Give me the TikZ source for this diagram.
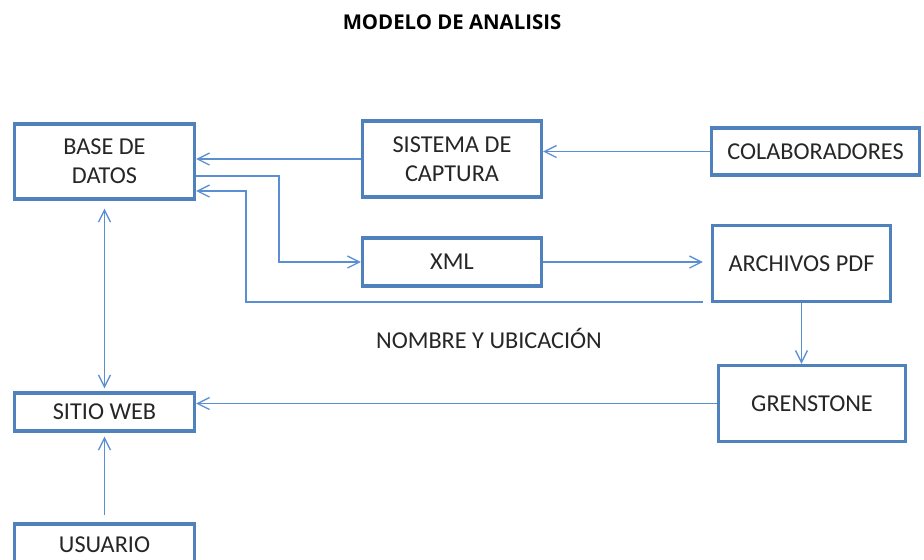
\documentclass[tikz,border=0pt]{standalone}
\usepackage{fontspec}
\setmainfont{Carlito}
\newfontfamily\titlefont{Open Sans}
\usetikzlibrary{arrows.meta}

\definecolor{boxblue}{HTML}{4F81BD}
\definecolor{lineblue}{HTML}{5B8FD3}

\begin{document}
\begin{tikzpicture}[x=0.02cm, y=-0.02cm,
    caja/.style={draw=boxblue, line width=1.8pt, align=center, inner sep=0pt,
                 text=black!85, font=\fontsize{13.8}{16.5}\selectfont},
    enlace/.style={draw=lineblue, line width=0.75pt,
                   arrows={-Straight Barb[length=2.4mm, width=2.4mm]}},
    etiqueta/.style={text=black!85, font=\fontsize{13.8}{16.5}\selectfont}]
      \useasboundingbox (0,0) rectangle (924,559);

      % titulo
      \node (titulo) at (452,22) {\titlefont\bfseries\fontsize{11.6}{13}\selectfont MODELO DE ANALISIS};

      % cajas
      \node [caja, minimum width=3.6cm, minimum height=1.5cm] (base) at (104.5,161.5) {BASE DE\\DATOS};
      \node [caja, minimum width=3.58cm, minimum height=1.52cm] (captura) at (452,159) {SISTEMA DE\\CAPTURA};
      \node [caja, minimum width=4.16cm, minimum height=0.94cm] (colab) at (815.5,151.5) {COLABORADORES};
      \node [caja, minimum width=3.58cm, minimum height=0.96cm] (xml) at (452,262) {XML};
      \node [caja, minimum width=3.56cm, minimum height=1.52cm] (pdf) at (801.5,263.5) {ARCHIVOS PDF};
      \node [caja, minimum width=3.74cm, minimum height=1.52cm] (grens) at (812,403.5) {GRENSTONE};
      \node [caja, minimum width=3.6cm, minimum height=0.76cm] (web) at (104.5,412) {SITIO WEB};
      \node [caja, minimum width=3.6cm, minimum height=0.84cm] (usuario) at (104.5,545) {USUARIO};

      \node [etiqueta] (nombre) at (489,338) {NOMBRE Y UBICACIÓN};

      % puntos de quiebre
      \coordinate (quiebre1) at (279,262);
      \coordinate (quiebre2) at (246,191);
      \coordinate (salidapdf) at (703,302);

      % conexiones
      \draw [enlace] (captura.west) -- (captura.west -| base.east);
      \draw [enlace] (colab.west) -- (colab.west -| captura.east);
      \draw [enlace] ([yshift=-0.29cm]base.east) -| (quiebre1) -- (xml.west);
      \draw [enlace] (salidapdf) -| (quiebre2) -- (quiebre2 -| base.east);
      \draw [enlace] (xml.east) -- ([xshift=-0.16cm]xml.east -| pdf.west);
      \draw [enlace, arrows={Straight Barb[length=2.4mm, width=2.4mm]-Straight Barb[length=2.4mm, width=2.4mm]}]
            ([yshift=-0.16cm]base.south) -- ([yshift=0.06cm]web.north);
      \draw [enlace] (pdf.south) -- (pdf.south |- grens.north);
      \draw [enlace] (grens.west) -- (grens.west -| web.east);
      \draw [enlace] ([yshift=0.14cm]usuario.north) -- ([yshift=-0.08cm]web.south);
\end{tikzpicture}
\end{document}
